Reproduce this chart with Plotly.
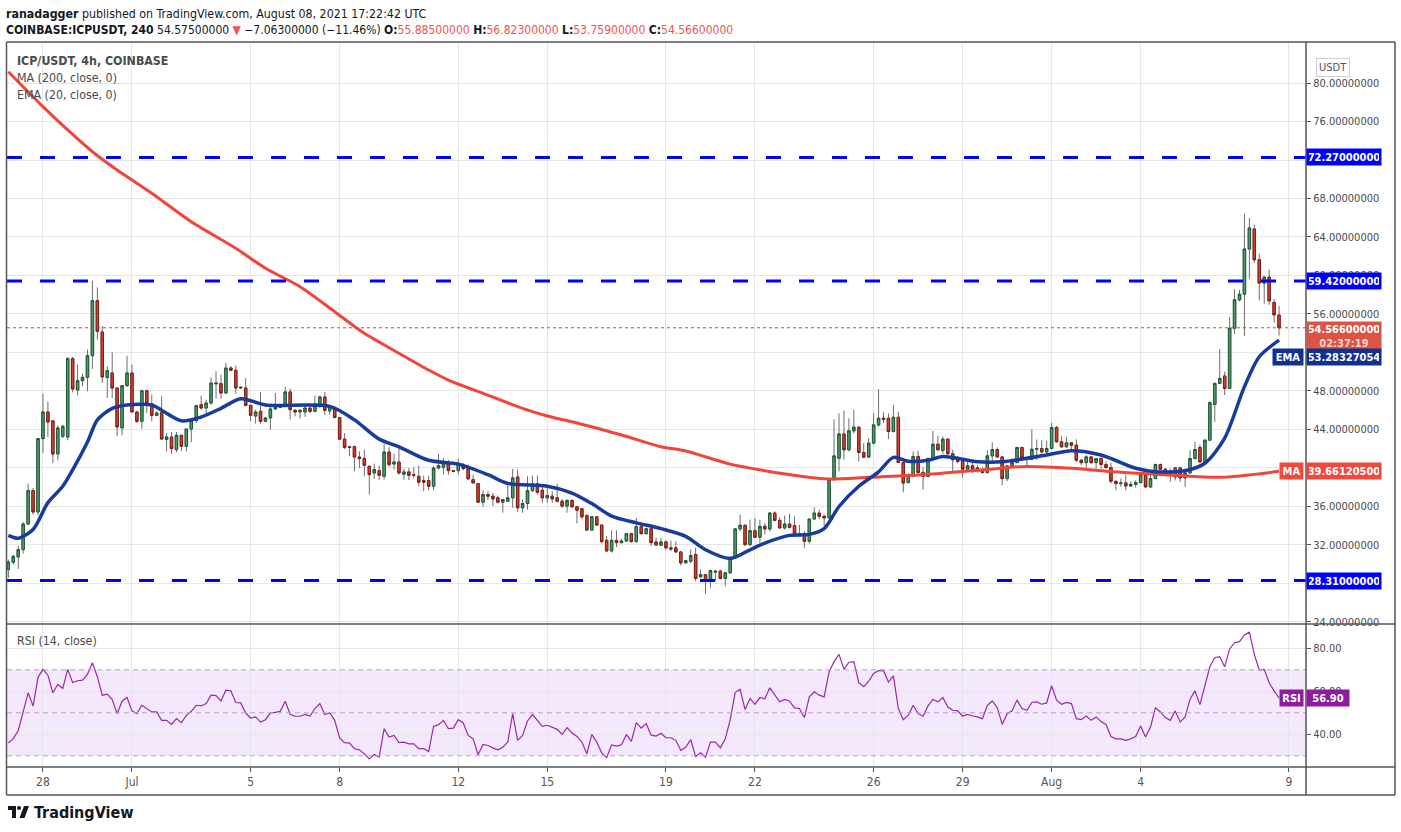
import pandas as pd
import plotly.graph_objects as go
from plotly.subplots import make_subplots

FONT = "Liberation Sans Narrow, Arial Narrow, DejaVu Sans Condensed, Liberation Sans, sans-serif"

# ICP/USDT 4h candles, first bar on the screen opens 2021-06-26 20:00 UTC
first_bar = "2021-06-26 20:00"

opens = [
    29.44, 30.2, 30.75, 31.52, 34.18, 37.65, 35.43, 43.05, 45.82, 44.9,
    41.46, 43.29, 43.22, 51.36, 48.1, 49.07, 49.42, 51.67, 57.39, 54.13,
    49.4, 49.87, 48.31, 44.16, 48.55, 49.87, 45.82, 44.85, 48.03, 46.68,
    45.47, 45.75, 42.95, 43.22, 41.91, 43.39, 42.25, 44.05, 44.92, 46.58,
    46.23, 46.75, 48.83, 48.76, 47.79, 50.39, 50.15, 48.31, 48.31, 46.51,
    45.4, 45.89, 44.85, 45.2, 46.13, 46.3, 46.58, 47.9, 46.0, 45.82,
    45.82, 46.23, 45.89, 46.65, 47.38, 45.93, 46.28, 45.24, 43.0, 42.2,
    42.24, 41.14, 41.0, 40.18, 39.48, 39.72, 39.14, 41.66, 40.41, 40.62,
    39.35, 39.59, 39.3, 39.14, 38.69, 38.69, 38.1, 40.0, 40.07, 40.45,
    39.72, 39.72, 40.24, 40.0, 38.79, 38.38, 36.45, 37.24, 37.07, 36.9,
    36.45, 36.55, 36.9, 39.07, 35.86, 36.31, 37.66, 38.35, 37.69, 36.9,
    37.07, 36.9, 36.55, 36.04, 36.62, 35.97, 35.76, 35.07, 33.55, 34.93,
    34.07, 32.48, 31.38, 32.48, 32.24, 32.41, 33.17, 32.35, 33.9, 33.17,
    33.69, 32.31, 31.97, 32.32, 31.7, 31.7, 31.28, 30.14, 30.31, 31.0,
    28.69, 28.93, 28.24, 29.18, 29.28, 28.52, 29.11, 30.66, 33.67, 34.05,
    32.04, 33.49, 32.8, 33.94, 33.67, 35.32, 34.56, 33.77, 34.18, 34.01,
    33.18, 33.2, 32.39, 34.7, 35.32, 34.98, 34.81, 38.78, 41.02, 43.54,
    41.89, 43.86, 44.24, 41.61, 41.13, 42.58, 44.48, 45.17, 45.17, 43.79,
    45.27, 40.57, 38.5, 39.16, 41.2, 39.54, 39.12, 40.99, 42.47, 41.82,
    43.0, 41.47, 40.85, 40.68, 39.88, 40.23, 40.01, 39.77, 39.52, 41.26,
    41.92, 41.15, 38.9, 40.22, 40.56, 42.13, 41.05, 40.91, 41.95, 42.02,
    41.67, 42.02, 44.21, 42.72, 42.2, 42.61, 42.37, 40.81, 40.56, 41.15,
    40.56, 40.98, 40.36, 40.04, 38.62, 38.38, 38.45, 38.13, 38.3, 38.48,
    39.31, 38.03, 38.9, 40.36, 39.87, 39.35, 39.07, 40.01, 38.97, 39.49,
    40.98, 42.13, 40.63, 42.89, 46.6, 48.79, 49.56, 48.27, 54.52, 57.47,
    58.06, 62.75, 64.83, 61.64, 59.21, 59.83, 57.2, 55.885,
]
highs = [
    30.48, 31.0, 31.93, 34.39, 38.37, 37.92, 43.1, 47.72, 46.89, 44.95,
    44.43, 44.5, 51.53, 51.53, 50.74, 49.8, 52.3, 59.46, 58.77, 54.72,
    50.56, 52.02, 48.31, 48.6, 51.67, 50.74, 45.85, 48.14, 48.05, 47.62,
    45.89, 47.45, 43.64, 43.74, 43.74, 43.5, 44.06, 44.93, 46.58, 47.52,
    47.1, 49.42, 50.04, 49.7, 50.91, 50.56, 50.63, 48.5, 49.35, 46.51,
    46.06, 47.9, 45.25, 46.58, 47.79, 46.6, 48.42, 48.24, 46.1, 46.1,
    46.48, 46.3, 47.52, 47.52, 47.9, 46.55, 46.38, 45.24, 43.62, 42.31,
    42.31, 41.73, 41.9, 40.24, 40.45, 40.24, 42.52, 42.17, 41.48, 42.0,
    39.93, 40.0, 40.1, 40.24, 39.21, 39.21, 40.17, 41.48, 41.04, 40.86,
    39.8, 40.97, 40.52, 40.35, 39.31, 38.4, 37.69, 37.59, 37.41, 37.14,
    36.79, 38.45, 39.9, 39.83, 36.72, 39.14, 39.21, 39.21, 38.28, 38.1,
    37.59, 38.38, 36.79, 36.79, 36.79, 36.0, 35.86, 35.17, 35.0, 35.0,
    34.14, 32.93, 33.52, 33.52, 32.66, 33.28, 33.28, 34.83, 34.38, 33.79,
    33.79, 32.76, 32.73, 32.49, 32.46, 32.39, 31.35, 30.45, 31.52, 31.7,
    29.45, 28.97, 29.45, 29.35, 29.45, 29.2, 30.83, 33.77, 35.15, 34.1,
    34.63, 34.81, 34.63, 34.29, 35.43, 35.5, 34.87, 35.05, 35.22, 34.98,
    34.11, 33.42, 34.72, 35.91, 35.67, 35.15, 38.8, 45.06, 45.69, 45.96,
    45.17, 46.03, 44.3, 42.58, 43.1, 45.69, 48.17, 45.79, 45.69, 46.55,
    45.86, 40.6, 39.47, 41.71, 41.78, 40.09, 41.09, 43.86, 43.34, 43.27,
    43.05, 41.89, 41.2, 40.75, 40.85, 40.85, 40.29, 40.11, 41.85, 42.65,
    42.13, 41.2, 40.25, 40.98, 42.2, 42.2, 41.1, 44.0, 42.96, 42.89,
    42.82, 44.7, 44.38, 43.31, 43.24, 42.65, 42.99, 40.9, 41.33, 41.2,
    41.0, 41.15, 40.7, 40.56, 38.7, 38.9, 39.31, 38.62, 38.72, 39.59,
    39.35, 39.24, 40.46, 40.46, 40.0, 39.94, 40.11, 40.11, 39.94, 41.85,
    42.72, 42.44, 42.96, 46.95, 48.85, 52.36, 50.01, 55.67, 58.58, 58.51,
    66.43, 65.98, 65.28, 62.26, 59.97, 60.6, 57.54, 56.823,
]
lows = [
    28.57, 29.96, 29.51, 31.1, 34.1, 35.15, 35.1, 41.56, 43.22, 40.52,
    40.8, 43.1, 42.88, 47.86, 47.52, 48.49, 47.97, 50.29, 53.33, 48.83,
    47.27, 47.27, 43.29, 43.39, 48.45, 45.8, 44.68, 44.09, 45.71, 44.85,
    45.37, 42.94, 41.73, 41.46, 41.63, 41.73, 41.73, 42.67, 44.68, 46.06,
    45.44, 46.58, 47.2, 47.2, 47.69, 50.1, 47.72, 48.2, 46.41, 44.85,
    44.61, 44.61, 44.8, 43.98, 46.06, 46.23, 46.41, 45.02, 45.37, 45.13,
    45.3, 45.71, 45.78, 46.23, 45.54, 45.52, 45.17, 42.93, 41.97, 41.21,
    39.66, 40.0, 39.14, 37.24, 38.86, 38.73, 38.79, 40.1, 39.83, 39.31,
    38.79, 38.73, 38.97, 38.1, 37.59, 37.69, 37.69, 39.83, 39.31, 39.31,
    39.55, 39.31, 39.76, 38.86, 38.38, 36.38, 35.97, 36.66, 36.04, 36.31,
    35.35, 36.5, 35.86, 35.41, 35.35, 35.69, 37.48, 37.24, 36.38, 36.38,
    36.38, 36.38, 35.86, 35.35, 35.86, 34.24, 34.66, 33.45, 33.45, 33.97,
    32.17, 31.31, 31.21, 31.79, 32.17, 32.31, 32.24, 32.24, 33.1, 33.1,
    31.9, 31.9, 31.87, 31.52, 31.35, 31.18, 29.87, 30.07, 30.14, 28.24,
    28.59, 26.93, 27.55, 28.24, 28.42, 27.72, 29.0, 30.6, 33.42, 31.87,
    31.87, 32.73, 32.21, 33.08, 33.42, 34.46, 33.67, 33.6, 33.7, 33.08,
    33.01, 31.7, 32.15, 34.6, 34.7, 33.94, 34.75, 38.71, 39.64, 40.85,
    41.71, 43.61, 40.68, 41.02, 41.02, 42.5, 44.3, 44.65, 43.0, 43.7,
    40.5, 37.47, 38.36, 39.1, 39.4, 37.74, 39.05, 40.9, 41.82, 41.47,
    41.4, 39.57, 40.5, 39.02, 39.8, 39.47, 39.49, 39.42, 39.45, 40.74,
    41.05, 38.2, 38.65, 40.1, 40.5, 41.0, 40.29, 40.8, 40.81, 41.5,
    41.5, 41.95, 42.61, 42.13, 42.1, 41.85, 40.63, 40.29, 39.94, 40.39,
    39.94, 39.94, 39.94, 38.38, 37.68, 38.03, 37.68, 38.03, 37.96, 38.4,
    37.96, 37.96, 38.85, 39.8, 39.24, 38.55, 38.72, 38.55, 38.03, 39.4,
    40.9, 40.56, 40.56, 42.8, 44.8, 48.7, 47.58, 48.2, 53.93, 57.3,
    53.72, 59.66, 61.29, 57.4, 57.06, 56.95, 55.11, 53.759,
]
closes = [
    30.23, 30.82, 31.52, 34.18, 37.65, 35.43, 43.05, 45.82, 44.78, 41.46,
    44.16, 44.33, 51.36, 48.21, 49.07, 49.42, 51.67, 57.39, 54.2, 49.46,
    50.11, 48.31, 44.26, 48.55, 49.87, 45.82, 44.85, 48.03, 46.68, 45.47,
    45.71, 43.01, 43.22, 42.01, 43.39, 42.25, 44.05, 44.92, 46.48, 46.23,
    46.75, 48.83, 48.76, 47.79, 50.39, 50.15, 48.31, 48.38, 46.51, 45.47,
    45.82, 44.85, 45.2, 46.13, 46.3, 46.58, 47.9, 46.06, 45.82, 46.0,
    46.23, 45.89, 46.65, 47.38, 45.99, 46.38, 45.24, 43.0, 42.14, 42.14,
    41.14, 40.97, 40.28, 39.31, 39.83, 39.24, 41.66, 40.35, 40.62, 39.48,
    39.59, 39.24, 39.24, 38.52, 38.52, 38.1, 40.0, 40.24, 40.52, 39.72,
    39.66, 40.41, 39.93, 38.86, 38.45, 36.45, 37.24, 37.07, 36.79, 36.45,
    36.72, 36.9, 38.97, 35.86, 36.31, 37.66, 38.35, 37.48, 36.9, 37.14,
    36.79, 36.55, 36.04, 36.62, 35.97, 35.62, 34.93, 33.55, 34.93, 34.07,
    32.35, 31.38, 32.48, 32.24, 32.41, 33.17, 32.35, 33.9, 33.17, 33.69,
    32.24, 32.0, 32.32, 31.7, 31.59, 31.28, 30.14, 30.38, 30.9, 28.52,
    28.93, 28.24, 29.35, 29.28, 28.52, 29.11, 30.66, 33.67, 34.05, 32.04,
    33.49, 32.8, 33.94, 33.67, 35.32, 34.56, 33.77, 34.18, 33.84, 33.18,
    33.1, 32.39, 34.7, 35.32, 34.98, 34.81, 38.78, 41.26, 43.54, 41.89,
    43.86, 44.24, 41.61, 41.13, 42.58, 44.48, 45.17, 45.07, 43.79, 45.27,
    40.57, 38.43, 39.23, 41.2, 39.54, 39.12, 40.99, 42.47, 41.89, 43.0,
    41.47, 40.85, 40.68, 39.88, 40.23, 39.88, 39.77, 39.52, 41.26, 41.92,
    41.15, 38.9, 40.22, 40.56, 42.13, 41.05, 40.91, 41.95, 42.02, 41.67,
    42.02, 44.21, 42.72, 42.2, 42.61, 42.37, 40.81, 40.56, 41.15, 40.56,
    40.98, 40.36, 40.04, 38.62, 38.38, 38.45, 38.13, 38.3, 38.48, 39.31,
    38.03, 38.9, 40.36, 39.87, 39.35, 39.45, 40.01, 38.97, 39.49, 40.98,
    41.92, 40.63, 42.89, 46.78, 48.79, 49.31, 48.27, 54.52, 57.47, 58.06,
    62.75, 64.94, 61.64, 59.21, 59.83, 57.37, 55.91, 54.566,
]

# RSI(14) one value per bar
rsi = [
    35.9, 38.0, 41.8, 51.2, 59.3, 53.1, 66.5, 70.2, 67.5, 59.3,
    63.2, 61.3, 70.2, 64.1, 64.9, 65.2, 67.9, 73.3, 66.8, 58.2,
    58.7, 56.2, 49.6, 55.4, 57.1, 50.9, 49.6, 53.5, 52.0, 50.4,
    50.4, 46.5, 46.5, 44.6, 47.3, 45.4, 48.8, 50.7, 53.5, 53.2,
    54.3, 58.2, 58.0, 55.5, 60.5, 60.2, 54.8, 54.6, 49.9, 47.6,
    48.1, 45.7, 46.8, 49.9, 50.2, 50.7, 55.4, 49.2, 48.4, 48.4,
    49.3, 48.5, 52.0, 54.3, 49.2, 49.9, 46.5, 38.3, 36.1, 35.9,
    33.3, 32.8, 30.9, 28.6, 30.6, 29.4, 42.6, 38.7, 39.5, 36.1,
    36.4, 35.6, 35.6, 33.3, 33.3, 32.0, 43.7, 44.5, 46.5, 42.6,
    42.9, 46.8, 45.3, 39.5, 37.9, 30.5, 35.3, 34.8, 33.7, 32.8,
    34.0, 36.4, 49.6, 37.2, 39.5, 46.2, 49.2, 46.5, 43.7, 44.2,
    43.4, 42.3, 40.0, 43.1, 40.6, 39.0, 36.4, 30.9, 40.0, 36.4,
    31.4, 29.1, 35.1, 34.5, 35.1, 39.8, 36.7, 45.4, 42.9, 45.0,
    39.6, 39.2, 40.5, 38.4, 38.4, 37.2, 32.5, 34.0, 37.5, 29.7,
    31.4, 29.4, 36.4, 36.4, 33.7, 37.9, 46.8, 59.4, 61.0, 51.5,
    56.6, 54.0, 57.1, 56.5, 61.6, 58.2, 55.1, 56.2, 55.4, 52.3,
    52.0, 47.8, 57.4, 59.8, 58.2, 57.4, 69.1, 73.8, 77.2, 70.2,
    73.5, 73.8, 64.0, 62.1, 64.7, 68.3, 69.6, 69.6, 64.3, 67.2,
    52.0, 46.8, 48.8, 53.5, 49.6, 48.4, 53.2, 56.2, 55.1, 57.1,
    52.7, 51.2, 50.9, 48.4, 49.3, 48.5, 48.1, 47.3, 53.5, 55.5,
    52.4, 44.6, 49.6, 50.9, 55.9, 52.0, 51.2, 54.8, 55.1, 54.0,
    54.6, 62.6, 55.9, 54.0, 54.8, 54.3, 47.3, 46.8, 48.5, 46.5,
    48.1, 46.0, 44.6, 39.0, 37.9, 37.9, 37.2, 37.9, 39.0, 43.9,
    38.7, 43.4, 52.3, 50.4, 47.8, 46.5, 50.9, 45.7, 48.1, 56.3,
    60.2, 53.8, 62.1, 71.4, 75.6, 76.1, 71.4, 79.7, 82.6, 83.1,
    86.2, 87.5, 77.2, 69.9, 70.2, 64.0, 60.2, 56.90,
]

# MA(200) and EMA(20) at these bar numbers
ma200_bar = [0, 7, 12, 17, 22, 29, 37, 46, 52, 59, 66, 72, 79, 85, 89, 96, 104, 109,
             114, 124, 132, 137, 146, 153, 160, 166, 174, 184, 197, 205, 215, 225, 235,
             245, 257]
ma200 = [81.17, 77.54, 75.12, 72.86, 70.96, 68.54, 65.59, 62.83, 60.75, 58.84, 56.24,
         53.99, 51.92, 50.18, 49.14, 47.76, 46.2, 45.4, 44.8, 43.43, 42.21, 41.77, 40.4,
         39.72, 39.17, 38.86, 39.03, 39.27, 39.79, 40.14, 39.97, 39.55, 39.27, 39.03,
         39.661205]

ema20_bar = [0, 2, 5, 8, 11, 13, 16, 18, 21, 24, 29, 31, 35, 39, 43, 47, 52, 65, 70, 75,
             79, 85, 91, 97, 101, 109, 114, 118, 122, 127, 132, 137, 141, 146, 150, 153,
             158, 162, 165, 168, 172, 176, 179, 182, 186, 189, 196, 201, 210, 215, 221,
             228, 232, 238, 242, 246, 250, 253, 257]
ema20 = [33.0, 32.7, 33.6, 36.4, 38.1, 39.8, 42.7, 45.0, 46.2, 46.55, 46.55, 46.0, 44.9,
         45.3, 46.2, 47.2, 46.55, 46.4, 45.0, 43.0, 42.2, 40.8, 40.4, 39.3, 38.4, 38.1,
         37.4, 36.3, 35.0, 34.3, 33.7, 32.9, 31.5, 30.6, 31.5, 32.2, 33.0, 33.1, 33.7,
         36.0, 38.1, 39.6, 41.1, 40.7, 40.8, 41.2, 40.65, 40.65, 41.35, 41.8, 41.35,
         39.97, 39.62, 39.72, 40.49, 43.1, 48.45, 51.56, 53.28327054]

levels = [72.27, 59.42, 28.31]
price_ticks = list(range(24, 84, 4))
# these tick labels sit fully under the coloured value tags on the original
hidden_ticks = [72, 52, 40, 28]
rsi_ticks = [40, 60, 80]

tick_dates = ["2021-06-28", "2021-07-01", "2021-07-05", "2021-07-08", "2021-07-12",
              "2021-07-15", "2021-07-19", "2021-07-22", "2021-07-26", "2021-07-29",
              "2021-08-01", "2021-08-04", "2021-08-09"]
tick_text = ["28", "Jul", "5", "8", "12", "15", "19", "22", "26", "29", "Aug", "4", "9"]

# ---- layout helpers (pixels of the 1401x832 page -> paper coords)
W, H = 1401, 832
L, R, T, B = 7, 1306, 42, 767


def px(x):
    return (x - L) / (R - L)


def py(y):
    return (B - y) / (B - T)


times = pd.date_range(first_bar, periods=len(closes), freq="4h")
t0 = times[0]
x_range = [t0 - pd.Timedelta(hours=1.1), t0 + pd.Timedelta(hours=1049.8)]

fig = make_subplots(rows=2, cols=1, shared_xaxes=True, vertical_spacing=0,
                    row_heights=[582 / 725, 143 / 725])

# wicks (grey) then bodies (coloured, dark outline)
fig.add_trace(go.Candlestick(
    x=times, open=opens, high=highs, low=lows, close=closes,
    increasing=dict(line=dict(color="#6e6e6e", width=1), fillcolor="#6e6e6e"),
    decreasing=dict(line=dict(color="#6e6e6e", width=1), fillcolor="#6e6e6e"),
    hoverinfo="skip"), row=1, col=1)
body_hi = [max(o, c) for o, c in zip(opens, closes)]
body_lo = [min(o, c) for o, c in zip(opens, closes)]
fig.add_trace(go.Candlestick(
    x=times, open=opens, high=body_hi, low=body_lo, close=closes,
    increasing=dict(line=dict(color="#1f5a37", width=1), fillcolor="#4f9d6c"),
    decreasing=dict(line=dict(color="#7d1f15", width=1), fillcolor="#d6402f"),
    hoverinfo="skip"), row=1, col=1)

fig.add_trace(go.Scatter(x=times[ma200_bar], y=ma200, mode="lines",
                         line=dict(color="#f2453a", width=3, shape="spline", smoothing=0.8),
                         hoverinfo="skip"), row=1, col=1)
fig.add_trace(go.Scatter(x=times[ema20_bar], y=ema20, mode="lines",
                         line=dict(color="#173c9e", width=3.5, shape="spline", smoothing=0.8),
                         hoverinfo="skip"), row=1, col=1)

fig.add_trace(go.Scatter(x=times, y=rsi, mode="lines",
                         line=dict(color="#9c27b0", width=1.2), hoverinfo="skip"),
              row=2, col=1)

shapes = []
# RSI band and guide lines
shapes.append(dict(type="rect", xref="paper", yref="y2", x0=0, x1=1, y0=30, y1=70,
                   fillcolor="rgba(155,47,230,0.11)", line=dict(width=0), layer="below"))
for lv in (70, 50, 30):
    shapes.append(dict(type="line", xref="paper", yref="y2", x0=0, x1=1, y0=lv, y1=lv,
                       line=dict(color="#b3a6bb", width=1, dash="5px,4px")))
# horizontal support / resistance
for lv in levels:
    shapes.append(dict(type="line", xref="paper", yref="y", x0=0, x1=1, y0=lv, y1=lv,
                       line=dict(color="#0000ff", width=3, dash="15px,18px")))
# last price dotted line
shapes.append(dict(type="line", xref="paper", yref="y", x0=0, x1=1,
                   y0=closes[-1], y1=closes[-1],
                   line=dict(color="#e53935", width=1, dash="dot")))

# frame
frame = "#555555"
for (x0, y0, x1, y1) in [(6.5, 42, 1395, 42), (6.5, 624, 1395, 624), (6.5, 767, 1395, 767),
                         (6.5, 795, 1395, 795), (6.5, 42, 6.5, 795), (1306, 42, 1306, 795),
                         (1395, 42, 1395, 795)]:
    shapes.append(dict(type="line", xref="paper", yref="paper",
                       x0=px(x0), x1=px(x1), y0=py(y0), y1=py(y1),
                       line=dict(color=frame, width=1.5)))


# TradingView logo mark
def path(points):
    s = "M " + " L ".join(f"{px(a)},{py(b)}" for a, b in points)
    return s + " Z"


shapes.append(dict(type="path", xref="paper", yref="paper",
                   path=path([(8, 806), (16, 806), (16, 818), (12, 818), (12, 810), (8, 810)]),
                   fillcolor="#131722", line=dict(width=0)))
shapes.append(dict(type="circle", xref="paper", yref="paper",
                   x0=px(17), x1=px(21), y0=py(806), y1=py(810),
                   fillcolor="#131722", line=dict(width=0)))
shapes.append(dict(type="path", xref="paper", yref="paper",
                   path=path([(24, 806), (29, 806), (24.5, 818), (19.5, 818)]),
                   fillcolor="#131722", line=dict(width=0)))

ann = []
red = "#ef5350"
ann.append(dict(xref="paper", yref="paper", x=px(4), y=py(14), xanchor="left", yanchor="middle",
                showarrow=False, font=dict(size=12.3, color="#131722"),
                text="<b>ranadagger</b> published on TradingView.com, August 08, 2021 17:22:42 UTC"))
ann.append(dict(xref="paper", yref="paper", x=px(4), y=py(30), xanchor="left", yanchor="middle",
                showarrow=False, font=dict(size=12, color="#131722"),
                text=(f"<b>COINBASE:ICPUSDT, 240</b> 54.57500000 <span style='color:{red}'>▼</span>"
                      f" −7.06300000 (−11.46%) <b>O:</b><span style='color:{red}'>{opens[-1]:.8f}</span>"
                      f" <b>H:</b><span style='color:{red}'>{highs[-1]:.8f}</span>"
                      f" <b>L:</b><span style='color:{red}'>{lows[-1]:.8f}</span>"
                      f" <b>C:</b><span style='color:{red}'>{closes[-1]:.8f}</span>")))
for txt, yy in [("<b>ICP/USDT, 4h, COINBASE</b>", 61), ("MA (200, close, 0)", 77.5),
                ("EMA (20, close, 0)", 95), ("RSI (14, close)", 641)]:
    ann.append(dict(xref="paper", yref="paper", x=px(15), y=py(yy), xanchor="left",
                    yanchor="middle", showarrow=False, text=txt,
                    font=dict(size=12.3, color="#4a4a4a")))
ann.append(dict(xref="paper", yref="paper", x=px(1350), y=py(58), showarrow=False, text="USDT",
                font=dict(size=11, color="#555555"), bgcolor="white", bordercolor="#cfcfcf",
                borderwidth=1, borderpad=2))


def tag(y, text, color, yref="y", width=70, height=12, x=1306, anchor="left", yanchor="middle"):
    ann.append(dict(xref="paper", yref=yref, x=px(x), y=y, xanchor=anchor, yanchor=yanchor,
                    showarrow=False, text=text, bgcolor=color, width=width, height=height,
                    borderpad=2, align="center", font=dict(size=11, color="white")))


for lv in levels:
    tag(lv, f"<b>{lv:.8f}</b>", "#0000ff")
tag(py(321), f"<b>{closes[-1]:.8f}</b><br><b><span style='color:#fbd6cf'>02:37:19</span></b>",
    "#dd5445", yref="paper", height=25, yanchor="top")
tag(py(356.7), f"<b>{ema20[-1]:.8f}</b>", "#10318f", yref="paper")
tag(py(356.7), "<b>EMA</b>", "#10318f", yref="paper", width=26, x=1304, anchor="right")
tag(ma200[-1], f"<b>{ma200[-1]:.8f}</b>", "#f04a3c")
tag(ma200[-1], "<b>MA</b>", "#f04a3c", width=19, x=1304, anchor="right")
tag(rsi[-1], f"<b>{rsi[-1]:.2f}</b>", "#8e1d9e", yref="y2", width=38)
tag(rsi[-1], "<b>RSI</b>", "#8e1d9e", yref="y2", width=19, x=1304, anchor="right")

ann.append(dict(xref="paper", yref="paper", x=px(32), y=py(812.5), xanchor="left",
                yanchor="middle", showarrow=False, text="<b>TradingView</b>",
                font=dict(size=16, color="#131722")))

grid = "#e6e6e6"
fig.update_layout(
    width=W, height=H, margin=dict(l=L, r=W - R, t=T, b=H - B),
    paper_bgcolor="white", plot_bgcolor="white", showlegend=False,
    font=dict(family=FONT, size=12, color="#4a4a4a"),
    shapes=shapes, annotations=ann, hovermode=False,
)
fig.update_xaxes(range=x_range, tickvals=pd.to_datetime(tick_dates), ticktext=tick_text,
                 showgrid=True, gridcolor=grid, gridwidth=1, zeroline=False, showline=False,
                 rangeslider=dict(visible=False))
fig.update_xaxes(ticks="outside", ticklen=4, tickcolor="#555555",
                 tickfont=dict(size=12, color="#555555"), row=2, col=1)
fig.update_yaxes(side="right", range=[23.79, 84.26], tickvals=price_ticks,
                 ticktext=["" if v in hidden_ticks else f"{v:.8f}" for v in price_ticks],
                 showgrid=True, gridcolor=grid, zeroline=False, ticks="outside", ticklen=4,
                 tickcolor="#555555", tickfont=dict(size=11, color="#4a4a4a"), row=1, col=1)
fig.update_yaxes(side="right", range=[24.8, 91.3], tickvals=rsi_ticks, tickformat=".2f",
                 showgrid=True, gridcolor=grid, zeroline=False, ticks="outside", ticklen=4,
                 tickcolor="#555555", tickfont=dict(size=11, color="#4a4a4a"), row=2, col=1)

fig.write_html("out.html", config={"displayModeBar": False},
               post_script="document.body.style.margin='0';")
